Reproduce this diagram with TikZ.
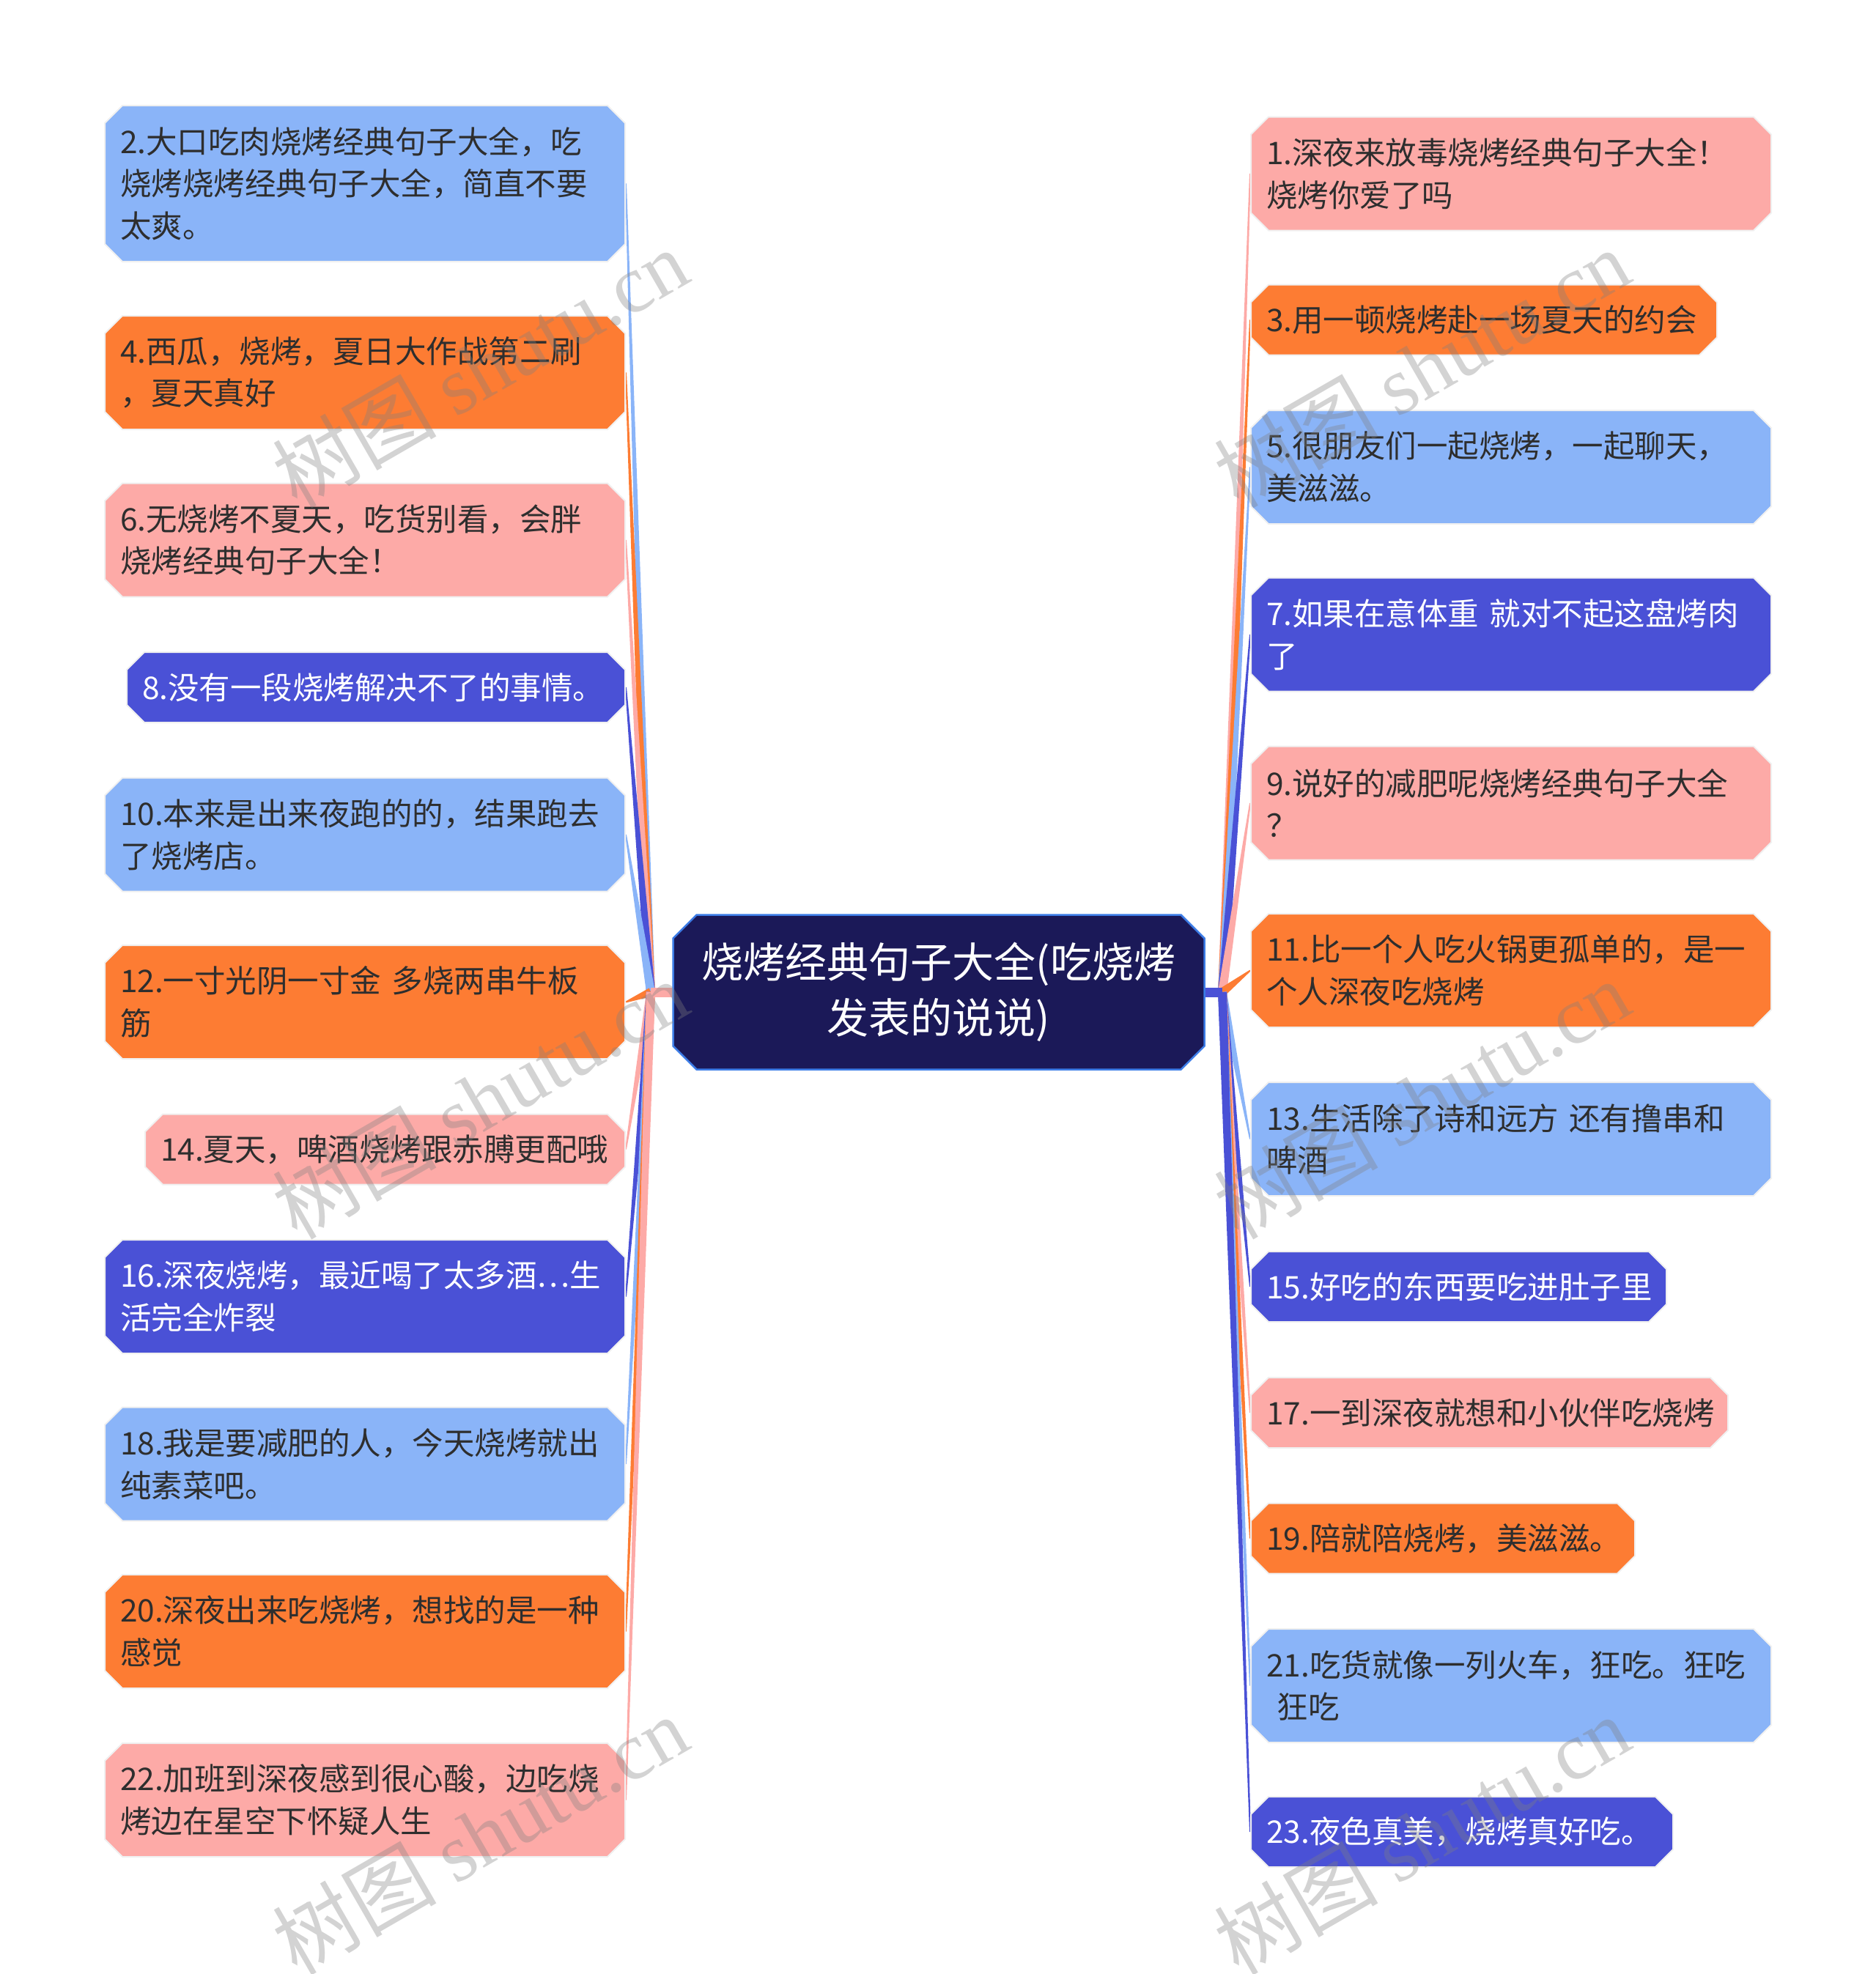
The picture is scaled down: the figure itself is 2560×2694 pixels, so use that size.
\documentclass[tikz,border=0pt]{standalone}
\usepackage{fontspec}
\setmainfont{Noto Sans CJK SC}
\newfontfamily\latinserif{Liberation Serif}
\usepackage{tikz}
\usetikzlibrary{shapes.misc,calc,backgrounds}
\definecolor{sky}{HTML}{8AB4F8}
\definecolor{ember}{HTML}{FD7C33}
\definecolor{blush}{HTML}{FDAAA7}
\definecolor{iris}{HTML}{4A51D6}
\definecolor{navy}{HTML}{1B1958}
\definecolor{rim}{HTML}{3C7CE6}
\definecolor{ink}{HTML}{2E2E2E}

% tapered connector: colour, hub, end anchor
\newcommand\taper[3]{%
  \fill[fill=#1] ($(#2)!3pt!90:(#3)$) -- ($(#3)!0.5pt!-90:(#2)$) -- ($(#3)!0.5pt!90:(#2)$) -- ($(#2)!3pt!-90:(#3)$) -- cycle;}

\begin{document}
\begin{tikzpicture}[
  x=0.5pt,y=-0.5pt,
  every node/.style={font=\fontsize{21.25pt}{28.8pt}\selectfont},
  span/.code={\pgfmathsetmacro\spanmw{#1/2}\pgfmathsetmacro\spantw{(#1-42)/2}%
    \tikzset{minimum width=\spanmw pt,text width=\spantw pt}},
  leaf/.style={chamfered rectangle,chamfered rectangle sep=6pt,inner xsep=1pt,inner ysep=1pt,
    align=left,text=ink,draw=black!6,line width=1pt,minimum height=77.5pt,span=710},
  tall/.style={minimum height=106.5pt},
  short/.style={minimum height=48pt},
  sky/.style={fill=sky},
  ember/.style={fill=ember},
  blush/.style={fill=blush},
  iris/.style={fill=iris,text=white},
  lside/.style={anchor=east},
  rside/.style={anchor=west},
  root/.style={chamfered rectangle,chamfered rectangle sep=8pt,fill=navy,draw=rim,line width=1.25pt,
    minimum width=362.5pt,minimum height=105.5pt,align=center,text=white,
    font=\fontsize{28.5pt}{37.8pt}\selectfont},
  wmark/.style={rotate=30,text=black!50,text opacity=0.35,font=\fontsize{56pt}{56pt}\selectfont}
]
\useasboundingbox (0,0) rectangle (2560,2694);

\node[root] (root) at (1281,1354) {烧烤经典句子大全(吃烧烤\\发表的说说)};
\coordinate (lhub) at (888,1354);
\coordinate (rhub) at (1668,1354);

% left branch
\node[leaf,sky,lside,tall] (b2) at (854,250.5) {2.大口吃肉烧烤经典句子大全，吃\\烧烤烧烤经典句子大全，简直不要\\太爽。};
\node[leaf,ember,lside] (b4) at (854,508.5) {4.西瓜，烧烤，夏日大作战第二刷\\，夏天真好};
\node[leaf,blush,lside] (b6) at (854,737) {6.无烧烤不夏天，吃货别看，会胖\\烧烤经典句子大全！};
\node[leaf,iris,lside,short,span=680] (b8) at (854,938) {8.没有一段烧烤解决不了的事情。};
\node[leaf,sky,lside] (b10) at (854,1139) {10.本来是出来夜跑的的，结果跑去\\了烧烤店。};
\node[leaf,ember,lside] (b12) at (854,1367.5) {12.一寸光阴一寸金 多烧两串牛板\\筋};
\node[leaf,blush,lside,short,span=655] (b14) at (854,1568.5) {14.夏天，啤酒烧烤跟赤膊更配哦};
\node[leaf,iris,lside] (b16) at (854,1769.5) {16.深夜烧烤，最近喝了太多酒…生\\活完全炸裂};
\node[leaf,sky,lside] (b18) at (854,1998) {18.我是要减肥的人，今天烧烤就出\\纯素菜吧。};
\node[leaf,ember,lside] (b20) at (854,2226.5) {20.深夜出来吃烧烤，想找的是一种\\感觉};
\node[leaf,blush,lside] (b22) at (854,2456.5) {22.加班到深夜感到很心酸，边吃烧\\烤边在星空下怀疑人生};

% right branch
\node[leaf,blush,rside] (b1) at (1706,237) {1.深夜来放毒烧烤经典句子大全！\\烧烤你爱了吗};
\node[leaf,ember,rside,short,span=636] (b3) at (1706,436.5) {3.用一顿烧烤赴一场夏天的约会};
\node[leaf,sky,rside] (b5) at (1706,637.5) {5.很朋友们一起烧烤，一起聊天，\\美滋滋。};
\node[leaf,iris,rside] (b7) at (1706,866) {7.如果在意体重 就对不起这盘烤肉\\了};
\node[leaf,blush,rside] (b9) at (1706,1096) {9.说好的减肥呢烧烤经典句子大全\\？};
\node[leaf,ember,rside] (b11) at (1706,1324.5) {11.比一个人吃火锅更孤单的，是一\\个人深夜吃烧烤};
\node[leaf,sky,rside] (b13) at (1706,1554.5) {13.生活除了诗和远方 还有撸串和\\啤酒};
\node[leaf,iris,rside,short,span=567] (b15) at (1706,1756) {15.好吃的东西要吃进肚子里};
\node[leaf,blush,rside,short,span=651] (b17) at (1706,1928) {17.一到深夜就想和小伙伴吃烧烤};
\node[leaf,ember,rside,short,span=524] (b19) at (1706,2099.5) {19.陪就陪烧烤，美滋滋。};
\node[leaf,sky,rside] (b21) at (1706,2300.5) {21.吃货就像一列火车，狂吃。狂吃\\\hspace*{0.35em}狂吃};
\node[leaf,iris,rside,short,span=576] (b23) at (1706,2500) {23.夜色真美，烧烤真好吃。};

\begin{scope}[on background layer]
\foreach \n/\c in {b2/sky,b4/ember,b6/blush,b8/iris,b10/sky,b12/ember,b14/blush,b16/iris,b18/sky,b20/ember,b22/blush}
  \taper{\c}{lhub}{\n.east};
\foreach \n/\c in {b1/blush,b3/ember,b5/sky,b7/iris,b9/blush,b11/ember,b13/sky,b15/iris,b17/blush,b19/ember,b21/sky,b23/iris}
  \taper{\c}{rhub}{\n.west};
\draw[draw=blush,line width=6.5pt] (lhub) -- (root.west);
\draw[draw=iris,line width=6.5pt] (root.east) -- (rhub);
\end{scope}

% watermarks
\foreach \wx/\wy [count=\k] in {655/502,655/1500,655/2504,1940/502,1940/1500,1940/2504}
  \node[wmark] (wm\k) at (\wx,\wy) {树图 {\latinserif shutu.cn}};
\end{tikzpicture}
\end{document}
